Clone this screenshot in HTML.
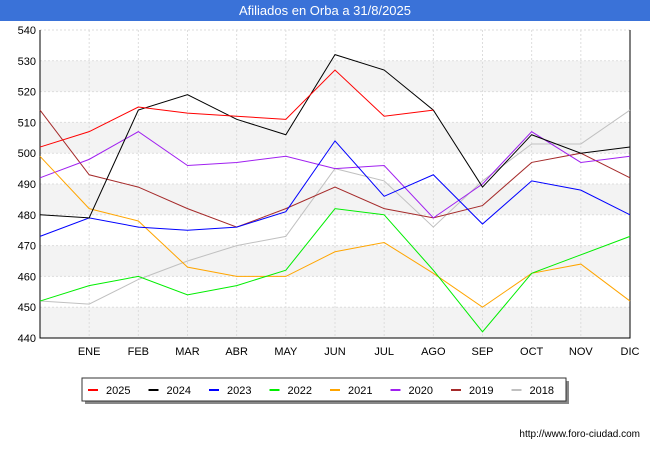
<!DOCTYPE html>
<html><head><meta charset="utf-8"><style>
body{margin:0;width:650px;height:450px;background:#fff;font-family:"Liberation Sans",sans-serif;overflow:hidden}
</style></head><body>
<svg width="650" height="450" xmlns="http://www.w3.org/2000/svg">
<rect x="0" y="0" width="650" height="21" fill="#3a72d8"/>
<text x="325" y="15" text-anchor="middle" fill="#fff" font-size="13">Afiliados en Orba a 31/8/2025</text>
<g id="bands"></g><g id="grid"></g><g id="axes"></g><g id="series"></g>
<rect x="85" y="381" width="484" height="23" fill="#888"/>
<rect x="82" y="378" width="484" height="23" fill="#fff" stroke="#333"/>
<g id="legend"></g>
<text x="640" y="437" text-anchor="end" font-size="10" fill="#000">http://www.foro-ciudad.com</text>
</svg>
<script>
const months=["","ENE","FEB","MAR","ABR","MAY","JUN","JUL","AGO","SEP","OCT","NOV","DIC"];
const yTicks=[440,450,460,470,480,490,500,510,520,530,540];
const seriesNames=["2025","2024","2023","2022","2021","2020","2019","2018"];
const colors=["#ff0000","#000000","#0000ff","#00ee00","#ffa500","#a020f0","#a52a2a","#c0c0c0"];
const s2025=[502,507,515,513,512,511,527,512,514];
const s2024=[480,479,514,519,511,506,532,527,514,489,506,500,502];
const s2023=[473,479,476,475,476,481,504,486,493,477,491,488,480];
const s2022=[452,457,460,454,457,462,482,480,462,442,461,467,473];
const s2021=[499,482,478,463,460,460,468,471,461,450,461,464,452];
const s2020=[492,498,507,496,497,499,495,496,479,490,507,497,499];
const s2019=[514,493,489,482,476,482,489,482,479,483,497,500,492];
const s2018=[452,451,459,465,470,473,495,491,476,491,503,503,514];
const data=[s2025,s2024,s2023,s2022,s2021,s2020,s2019,s2018];
const NS="http://www.w3.org/2000/svg";
const X0=40,X1=630,Y0=338,Y1=30,vmin=440,vmax=540;
const xs=i=>X0+i*(X1-X0)/12;
const ys=v=>Y0-(v-vmin)*(Y0-Y1)/(vmax-vmin);
function mk(t,a,p){const e=document.createElementNS(NS,t);for(const k in a)e.setAttribute(k,a[k]);document.getElementById(p).appendChild(e);return e;}
for(let i=0;i<yTicks.length-1;i+=2){
 const r=mk("rect",{x:X0,y:ys(yTicks[i]+10),width:X1-X0,height:ys(yTicks[i])-ys(yTicks[i]+10),fill:"#f3f3f3"},"bands");
 
 
}
yTicks.forEach(v=>{
 const l=mk("line",{x1:X0,x2:X1,y1:ys(v),y2:ys(v),stroke:"#ddd","stroke-dasharray":"2,2"},"grid");
 
 
 const t=mk("text",{x:X0-4,y:ys(v)+4,"text-anchor":"end","font-size":"11",fill:"#000"},"axes");
 t.textContent=v;
 
 
});
months.forEach((m,i)=>{
 if(i>0){const g=mk("line",{x1:xs(i),x2:xs(i),y1:Y1,y2:Y0,stroke:"#ddd","stroke-dasharray":"2,2"},"grid");
 
 }
 const t=mk("text",{x:xs(i),y:Y0+17,"text-anchor":"middle","font-size":"11",fill:"#000"},"axes");
 t.textContent=m;
 
 
});
const ax=mk("path",{d:`M${X0},${Y1}V${Y0}H${X1}V${Y1}`,fill:"none",stroke:"#000"},"axes");


for(let s=data.length-1;s>=0;s--){
 const pts=data[s].map((v,i)=>xs(i)+","+ys(v)).join(" ");
 const p=mk("polyline",{points:pts,fill:"none",stroke:colors[s],"stroke-width":"1"},"series");
 
 
}
seriesNames.forEach((n,i)=>{
 const x=88+i*60.5;
 const l=mk("line",{x1:x,x2:x+10,y1:390,y2:390,stroke:colors[i],"stroke-width":"2"},"legend");
 
 
 const t=mk("text",{x:x+18,y:394,"font-size":"11",fill:"#000"},"legend");
 t.textContent=n;
 
 
});
</script>
</body></html>
